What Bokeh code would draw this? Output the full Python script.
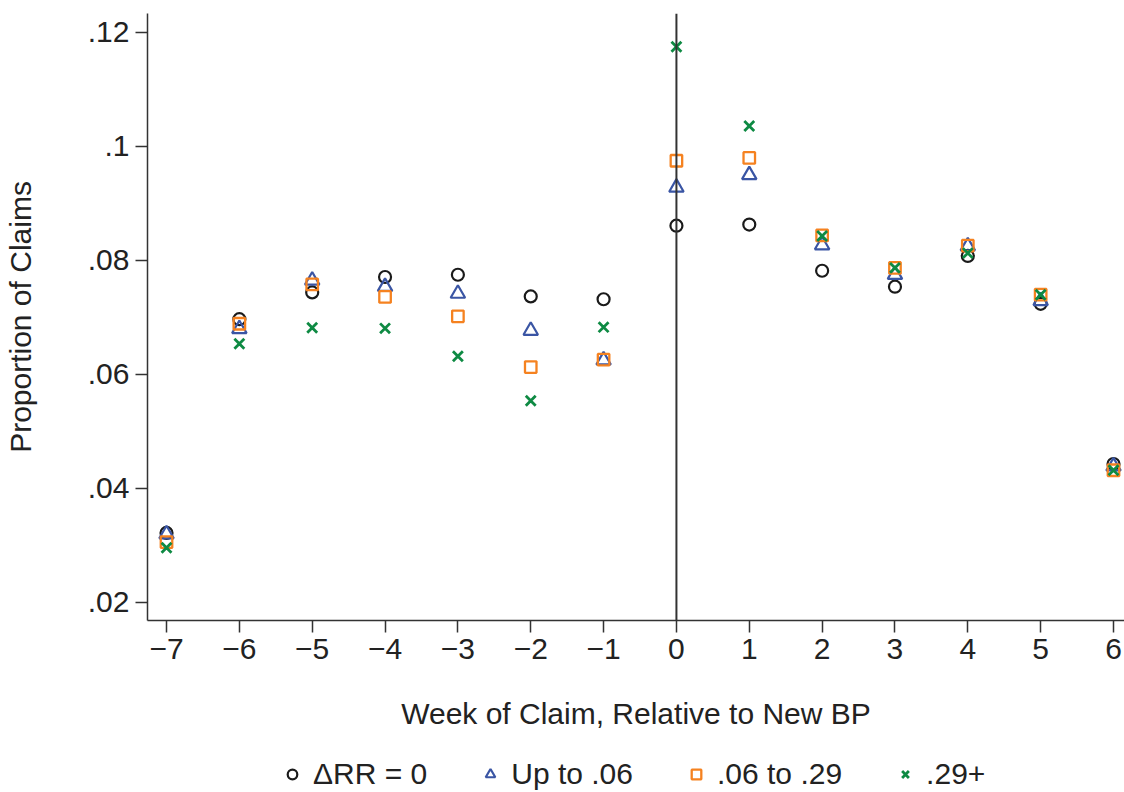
from bokeh.plotting import figure
from bokeh.layouts import column
from bokeh.models import Range1d, FixedTicker, Span, Legend, LegendItem
from bokeh.embed import file_html
from bokeh.resources import INLINE

# ---- data ----
weeks = [-7, -6, -5, -4, -3, -2, -1, 0, 1, 2, 3, 4, 5, 6]
rr_zero = [0.0322, 0.0697, 0.0744, 0.0771, 0.0775, 0.0737, 0.0732,
           0.0861, 0.0863, 0.0782, 0.0754, 0.0808, 0.0724, 0.0443]
up_to_06 = [0.0320, 0.0680, 0.0765, 0.0754, 0.0742, 0.0677, 0.0625,
            0.0928, 0.0950, 0.0827, 0.0775, 0.0825, 0.0729, 0.0439]
from_06_to_29 = [0.0306, 0.0689, 0.0758, 0.0736, 0.0702, 0.0613, 0.0626,
                 0.0975, 0.0980, 0.0844, 0.0787, 0.0826, 0.0740, 0.0432]
above_29 = [0.0296, 0.0654, 0.0682, 0.0681, 0.0632, 0.0554, 0.0683,
            0.1175, 0.1036, 0.0843, 0.0787, 0.0813, 0.0740, 0.0432]

series_labels = ["\u0394RR = 0", "Up to .06", ".06 to .29", ".29+"]
x_ticks = [-7, -6, -5, -4, -3, -2, -1, 0, 1, 2, 3, 4, 5, 6]
y_ticks = [0.02, 0.04, 0.06, 0.08, 0.10, 0.12]
y_tick_labels = [".02", ".04", ".06", ".08", ".1", ".12"]
x_title = "Week of Claim, Relative to New BP"
y_title = "Proportion of Claims"

FONT = "Liberation Sans"
TXT = "#222222"
FS = "30px"

series = [rr_zero, up_to_06, from_06_to_29, above_29]
markers = ["circle", "triangle", "square", "x"]
colors = ["#1A1A1A", "#3A55A4", "#F58220", "#0E8A43"]
sizes = [12, 14.5, 11.5, 14]
widths = [2.2, 2.2, 2.3, 2.8]

# ---------------- main plot ----------------
p = figure(frame_width=977, frame_height=607, output_backend="svg",
           toolbar_location=None,
           x_range=Range1d(-7.261, 6.151), y_range=Range1d(0.016842, 0.12333),
           min_border_left=145, min_border_right=0, min_border_top=13,
           min_border_bottom=113)
p.outline_line_color = None
p.grid.visible = False
p.background_fill_color = "white"
p.border_fill_color = "white"

for ax in (p.xaxis[0], p.yaxis[0]):
    ax.axis_line_color = "#333333"
    ax.axis_line_width = 1.5
    ax.major_tick_line_color = "#333333"
    ax.major_tick_line_width = 1.5
    ax.major_tick_out = 12
    ax.major_tick_in = 0
    ax.minor_tick_line_color = None
    ax.major_label_text_font = FONT
    ax.major_label_text_font_size = FS
    ax.major_label_text_color = TXT
    ax.axis_label_text_font = FONT
    ax.axis_label_text_font_size = FS
    ax.axis_label_text_font_style = "normal"
    ax.axis_label_text_color = TXT

p.xaxis.ticker = FixedTicker(ticks=x_ticks)
p.yaxis.ticker = FixedTicker(ticks=y_ticks)
p.yaxis.major_label_overrides = dict(zip(y_ticks, y_tick_labels))
p.xaxis.axis_label = x_title
p.yaxis.axis_label = y_title
p.xaxis.major_label_standoff = 6
p.xaxis.axis_label_standoff = 35
p.yaxis.major_label_standoff = 6
p.yaxis.axis_label_standoff = 48

vline = Span(location=0, dimension="height", line_color="#333333", line_width=2)
p.add_layout(vline)

for ys, m, c, s, w in zip(series, markers, colors, sizes, widths):
    p.scatter(weeks, ys, marker=m, size=s, fill_color=None,
              line_color=c, line_width=w)

# ---------------- legend strip ----------------
q = figure(frame_width=1122, frame_height=59, output_backend="svg",
           toolbar_location=None, x_axis_type=None, y_axis_type=None,
           x_range=Range1d(0, 1), y_range=Range1d(0, 1),
           min_border_left=0, min_border_right=0, min_border_top=0,
           min_border_bottom=0)
q.outline_line_color = None
q.grid.visible = False
q.background_fill_color = "white"
q.border_fill_color = "white"

items = []
for lab, ys, m, c, s, w in zip(series_labels, series, markers, colors,
                               sizes, widths):
    # legend proxy: first point of each series, outside this strip's range
    rr = q.scatter(x=weeks[:1], y=ys[:1], marker=m, size=s, fill_color=None,
                   line_color=c, line_width=w)
    items.append(LegendItem(label=lab, renderers=[rr]))

legend = Legend(items=items, orientation="horizontal", location=(280, 1),
                glyph_width=24, glyph_height=24, label_standoff=9, spacing=51,
                padding=0, margin=0, border_line_color=None,
                background_fill_alpha=0,
                label_text_font=FONT, label_text_font_size=FS,
                label_text_color=TXT)
q.add_layout(legend, "center")

layout = column(p, q, spacing=0)
open("out.html", "w").write(file_html(layout, INLINE))
